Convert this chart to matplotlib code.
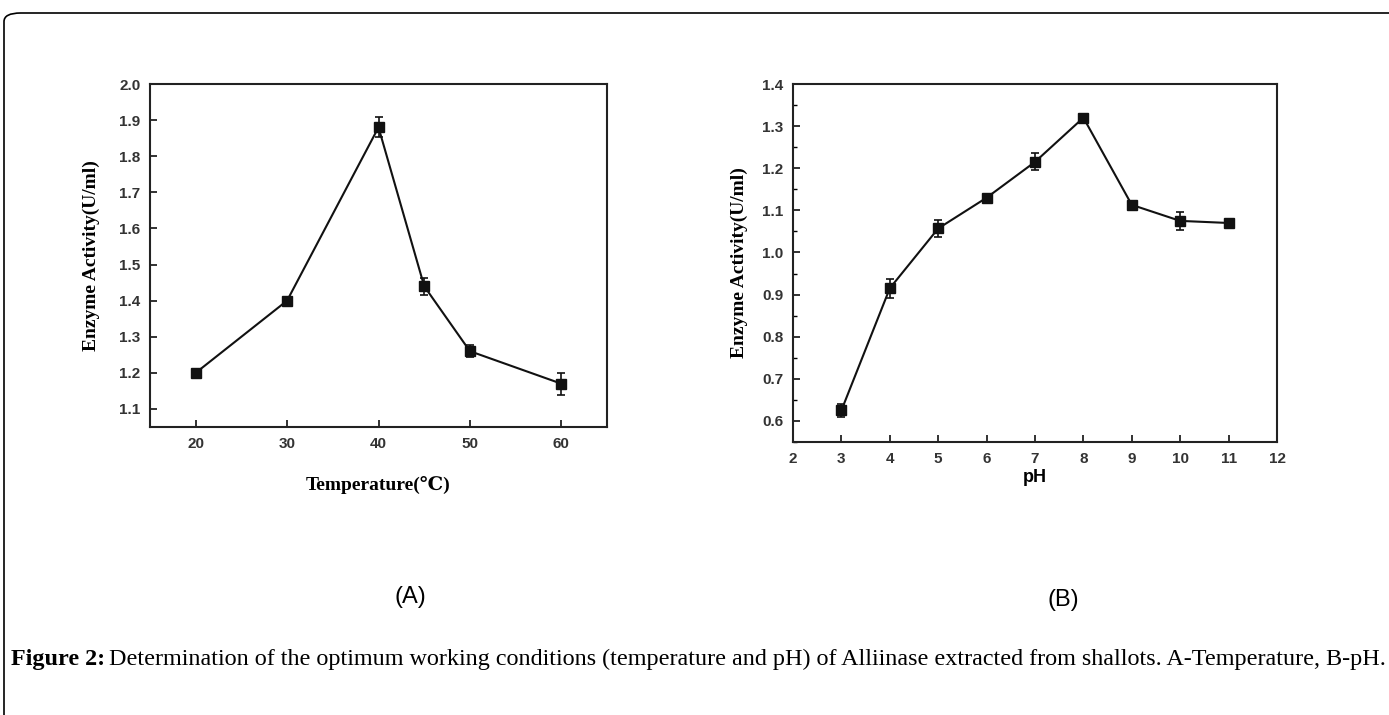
import numpy as np
import matplotlib.pyplot as plt
from matplotlib.patches import FancyBboxPatch
from matplotlib.ticker import MultipleLocator

# 数据 (A) 温度
temp = [20, 30, 40, 45, 50, 60]
temp_act = [1.20, 1.40, 1.88, 1.44, 1.26, 1.17]
temp_err = [0.012, 0.006, 0.028, 0.024, 0.016, 0.030]

# 数据 (B) pH
ph = [3, 4, 5, 6, 7, 8, 9, 10, 11]
ph_act = [0.625, 0.915, 1.057, 1.130, 1.215, 1.320, 1.113, 1.075, 1.070]
ph_err = [0.016, 0.022, 0.020, 0.008, 0.020, 0.006, 0.010, 0.022, 0.006]

W, H = 1389, 715
fig = plt.figure(figsize=(W / 100, H / 100), dpi=100)

# 外框 (圆角, 右边和下边出画面)
frame = FancyBboxPatch((4 / W, -0.3), 1.2, (H - 13) / H + 0.3,
                       boxstyle="round,pad=0,rounding_size=0.012",
                       transform=fig.transFigure, fill=False,
                       edgecolor='black', linewidth=1.2, clip_on=False)
fig.patches.append(frame)

label_font = dict(family=['Liberation Serif', 'DejaVu Serif'], weight='bold', size=14)


def style_axes(ax):
    for s in ax.spines.values():
        s.set_linewidth(1.5)
        s.set_color('#222222')
    ax.tick_params(direction='in', length=5, width=1.3, colors='#222222',
                   top=False, right=False, pad=7)
    ax.tick_params(which='minor', direction='in', length=3, width=1.0)
    for lab in ax.get_xticklabels() + ax.get_yticklabels():
        lab.set_fontfamily('Liberation Sans')
        lab.set_fontweight('bold')
        lab.set_fontsize(11)
        lab.set_color('#333333')


# (A)
ax1 = fig.add_axes([150 / W, 1 - 427 / H, (607 - 150) / W, (427 - 84) / H])
ax1.errorbar(temp, temp_act, yerr=temp_err, color='#111111', marker='s',
             markersize=7, linewidth=1.5, capsize=3, elinewidth=1.2,
             capthick=1.2)
ax1.set_xlim(15, 65)
ax1.set_ylim(1.05, 2.0)
ax1.set_xticks([20, 30, 40, 50, 60])
ax1.set_yticks(np.arange(1.1, 2.01, 0.1))
ax1.yaxis.set_major_formatter(plt.FormatStrFormatter('%.1f'))
style_axes(ax1)
ax1.set_ylabel('Enzyme Activity(U/ml)', fontdict=label_font, labelpad=14)
ax1.set_xlabel('Temperature(\u2103)', fontdict=label_font, labelpad=18)

# (B)
ax2 = fig.add_axes([793 / W, 1 - 442 / H, (1277 - 793) / W, (442 - 84) / H])
ax2.errorbar(ph, ph_act, yerr=ph_err, color='#111111', marker='s',
             markersize=7, linewidth=1.5, capsize=3, elinewidth=1.2,
             capthick=1.2)
ax2.set_xlim(2, 12)
ax2.set_ylim(0.55, 1.4)
ax2.set_xticks(range(2, 13))
ax2.set_yticks(np.arange(0.6, 1.41, 0.1))
ax2.yaxis.set_minor_locator(MultipleLocator(0.05))
ax2.yaxis.set_major_formatter(plt.FormatStrFormatter('%.1f'))
style_axes(ax2)
ax2.set_ylabel('Enzyme Activity(U/ml)', fontdict=label_font, labelpad=10)
ax2.set_xlabel('pH', fontdict=dict(family='Liberation Sans', weight='bold', size=13),
               labelpad=2)

# 子图标号
fig.text(410 / W, 1 - 597 / H, '(A)', ha='center', va='center',
         fontsize=17, family='Liberation Sans')
fig.text(1063 / W, 1 - 600 / H, '(B)', ha='center', va='center',
         fontsize=17, family='Liberation Sans')

# 图注
t1 = fig.text(11 / W, 1 - 659 / H, 'Figure 2:', ha='left', va='center',
              fontsize=17.4, family='Liberation Serif', weight='bold')
fig.canvas.draw()
bb = t1.get_window_extent()
fig.text((bb.x1 + 4) / W, 1 - 659 / H,
         'Determination of the optimum working conditions (temperature and pH) of '
         'Alliinase extracted from shallots. A-Temperature, B-pH.',
         ha='left', va='center', fontsize=17.4, family='Liberation Serif')

fig.savefig('out.png', dpi=100)
